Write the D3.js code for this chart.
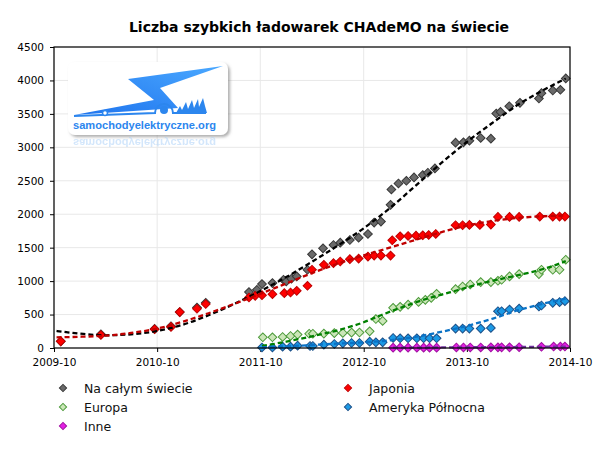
<!DOCTYPE html>
<html>
<head>
<meta charset="utf-8">
<script src="https://cdnjs.cloudflare.com/ajax/libs/d3/7.8.5/d3.min.js"></script>
<style>
  body { margin: 0; background: #fff; }
  .chart text { font-family: "DejaVu Sans", Verdana, sans-serif; fill: #000; }
</style>
</head>
<body>
<div class="chart"></div>
<script>
// data: [date, chargers]
var worldData = [
  ["2009-10-25",100],["2010-03-16",205],["2010-09-22",285],["2010-11-19",325],["2010-12-20",537],
  ["2011-02-19",605],["2011-03-22",675],["2011-08-22",836],["2011-09-19",870],["2011-10-07",955],
  ["2011-11-13",970],["2011-12-22",1020],["2012-01-01",995],["2012-01-19",1035],["2012-02-07",1070],
  ["2012-03-16",1170],["2012-04-01",1400],["2012-05-10",1490],["2012-06-16",1540],["2012-07-10",1575],
  ["2012-08-13",1615],["2012-09-13",1650],["2012-10-16",1705],["2012-11-07",1875],["2012-12-01",1890],
  ["2013-01-04",2140],["2013-01-07",2370],["2013-02-01",2460],["2013-03-01",2500],["2013-03-28",2550],
  ["2013-04-28",2585],["2013-05-16",2620],["2013-06-10",2685],["2013-08-22",3070],["2013-09-19",3075],
  ["2013-10-10",3100],["2013-11-19",3140],["2013-12-25",3130],["2014-01-13",3505],["2014-01-28",3530],
  ["2014-02-28",3615],["2014-04-07",3665],["2014-06-13",3730],["2014-06-22",3810],["2014-08-01",3850],
  ["2014-08-28",3860],["2014-09-16",4030]
];
var japanData = [
  ["2009-10-25",100],["2010-03-16",195],["2010-09-22",280],["2010-11-19",315],["2010-12-20",537],
  ["2011-02-19",587],["2011-03-22",657],["2011-08-22",755],["2011-09-13",780],["2011-10-07",790],
  ["2011-11-13",805],["2011-12-25",820],["2012-01-16",830],["2012-02-07",855],["2012-03-16",930],
  ["2012-04-01",1170],["2012-05-13",1243],["2012-06-16",1268],["2012-07-10",1293],["2012-08-13",1328],
  ["2012-09-13",1337],["2012-10-16",1367],["2012-11-07",1382],["2012-12-01",1382],["2013-01-04",1382],
  ["2013-01-10",1610],["2013-02-07",1670],["2013-03-07",1675],["2013-04-04",1680],["2013-04-28",1685],
  ["2013-05-19",1690],["2013-06-13",1705],["2013-08-22",1835],["2013-09-16",1835],["2013-10-10",1840],
  ["2013-11-16",1840],["2013-12-25",1845],["2014-01-19",1960],["2014-03-01",1960],["2014-04-04",1960],
  ["2014-06-16",1965],["2014-08-01",1965],["2014-08-25",1965],["2014-09-13",1965]
];
var europeData = [
  ["2011-10-10",160],["2011-11-13",160],["2011-12-19",165],["2012-01-16",180],["2012-02-10",200],
  ["2012-03-22",213],["2012-04-04",213],["2012-05-13",215],["2012-06-19",223],["2012-07-19",225],
  ["2012-08-19",230],["2012-09-16",232],["2012-10-22",249],["2012-11-13",433],["2012-12-07",405],
  ["2013-01-13",600],["2013-02-07",615],["2013-03-07",648],["2013-04-13",689],["2013-05-07",720],
  ["2013-05-28",750],["2013-06-16",810],["2013-08-22",880],["2013-09-16",920],["2013-10-13",950],
  ["2013-11-19",985],["2013-12-25",985],["2014-01-19",1005],["2014-02-01",1020],["2014-03-01",1070],
  ["2014-04-04",1105],["2014-06-13",1105],["2014-06-22",1170],["2014-08-01",1170],["2014-08-25",1170],
  ["2014-09-16",1320]
];
var northAmericaData = [
  ["2011-10-07",8],["2011-11-13",8],["2011-12-19",20],["2012-01-16",20],["2012-02-10",35],
  ["2012-03-25",30],["2012-04-04",30],["2012-05-13",50],["2012-06-19",60],["2012-07-19",70],
  ["2012-08-19",75],["2012-09-16",75],["2012-10-22",95],["2012-11-13",85],["2012-12-07",85],
  ["2013-01-13",150],["2013-02-07",145],["2013-03-07",145],["2013-04-07",145],["2013-05-01",145],
  ["2013-05-22",145],["2013-06-16",145],["2013-08-22",290],["2013-09-16",290],["2013-10-10",290],
  ["2013-11-19",290],["2013-12-25",300],["2014-01-19",550],["2014-02-01",550],["2014-03-01",575],
  ["2014-04-04",590],["2014-06-13",620],["2014-06-22",635],["2014-08-01",675],["2014-08-25",685],
  ["2014-09-13",700]
];
var otherData = [
  ["2013-01-13",5],["2013-02-07",5],["2013-03-07",5],["2013-04-07",5],["2013-05-01",5],
  ["2013-05-22",5],["2013-06-16",5],["2013-08-25",8],["2013-09-19",8],["2013-10-13",8],
  ["2013-11-19",8],["2013-12-25",10],["2014-01-19",10],["2014-02-01",10],["2014-03-01",10],
  ["2014-04-04",12],["2014-06-22",18],["2014-08-04",22],["2014-08-28",22],["2014-09-13",22]
];

// dashed trend lines
var worldTrend = [
  ["2009-10-10",255],["2010-01-01",215],["2010-04-01",190],["2010-07-01",205],["2010-10-01",255],
  ["2011-01-01",350],["2011-04-01",490],["2011-07-01",660],["2011-10-01",850],["2012-01-01",1060],
  ["2012-04-01",1290],["2012-07-01",1530],["2012-10-01",1790],["2013-01-01",2090],["2013-04-01",2420],
  ["2013-07-01",2760],["2013-10-01",3080],["2014-01-01",3370],["2014-04-01",3640],["2014-07-01",3860],
  ["2014-09-16",4030]
];
var japanTrend = [
  ["2009-10-10",160],["2010-01-01",168],["2010-04-01",185],["2010-07-01",225],["2010-10-01",290],
  ["2011-01-01",395],["2011-04-01",520],["2011-07-01",660],["2011-10-01",810],["2012-01-01",965],
  ["2012-04-01",1120],["2012-07-01",1260],["2012-10-01",1385],["2013-01-01",1500],["2013-04-01",1615],
  ["2013-07-01",1730],["2013-10-01",1830],["2014-01-01",1900],["2014-04-01",1945],["2014-07-01",1970],
  ["2014-09-16",1980]
];
var europeTrend = [
  ["2011-10-07",30],["2012-01-01",95],["2012-04-01",175],["2012-07-01",265],["2012-10-01",385],
  ["2012-12-01",490],["2013-02-01",590],["2013-04-01",680],["2013-06-01",760],["2013-08-01",830],
  ["2013-10-01",905],["2013-12-01",975],["2014-02-01",1035],["2014-04-01",1090],["2014-06-01",1150],
  ["2014-07-01",1185],["2014-08-01",1225],["2014-09-16",1300]
];
var northAmericaTrend = [
  ["2011-10-07",10],["2012-01-01",25],["2012-04-01",45],["2012-07-01",65],["2012-10-01",85],
  ["2013-01-01",115],["2013-04-01",165],["2013-07-01",240],["2013-10-01",330],["2014-01-01",440],
  ["2014-04-01",565],["2014-07-01",665],["2014-09-16",740]
];
var otherTrend = [
  ["2013-01-13",5],["2013-07-01",8],["2013-12-01",12],["2014-05-01",16],["2014-09-16",22]
];

var seriesNames = ["Na całym świecie", "Japonia", "Europa", "Ameryka Północna", "Inne"];
var xTickLabels = ["2009-10", "2010-10", "2011-10", "2012-10", "2013-10", "2014-10"];
var yTickValues = [0, 500, 1000, 1500, 2000, 2500, 3000, 3500, 4000, 4500];

var svgWidth = 600;
var svgHeight = 450;
var margin = { top: 47, right: 30, bottom: 102, left: 54 };
var width = svgWidth - margin.left - margin.right;
var height = svgHeight - margin.top - margin.bottom;

var parseDate = d3.timeParse("%Y-%m-%d");
var parseMonth = d3.timeParse("%Y-%m");

var series = [
  { data: worldData, trend: worldTrend, fill: "#6a6a6a", stroke: "#383838", line: "#000000" },
  { data: japanData, trend: japanTrend, fill: "#ff0000", stroke: "#c00000", line: "#c00000" },
  { data: europeData, trend: europeTrend, fill: "#cbe6b8", stroke: "#4c9a3a", line: "#008000" },
  { data: northAmericaData, trend: northAmericaTrend, fill: "#1b9ae6", stroke: "#1c4f88", line: "#0a72c6" },
  { data: otherData, trend: otherTrend, fill: "#e41ee4", stroke: "#a012a0", line: "#7030a0" }
];
series.forEach(function (s, i) { s.name = seriesNames[i]; });

var svg = d3.select(".chart")
  .append("svg")
  .attr("width", svgWidth)
  .attr("height", svgHeight);

var defs = svg.append("defs");
defs.append("filter")
  .attr("id", "shadow")
  .attr("x", "-10%").attr("y", "-10%").attr("width", "130%").attr("height", "140%")
  .append("feDropShadow")
  .attr("dx", 2).attr("dy", 2).attr("stdDeviation", 1.6)
  .attr("flood-color", "#777").attr("flood-opacity", 0.6);
var grad = defs.append("linearGradient")
  .attr("id", "bolt").attr("x1", "0").attr("y1", "1").attr("x2", "1").attr("y2", "0");
grad.append("stop").attr("offset", "0%").attr("stop-color", "#1f74ee");
grad.append("stop").attr("offset", "100%").attr("stop-color", "#4aa8ff");

// title
svg.append("text")
  .attr("x", 319)
  .attr("y", 32)
  .attr("text-anchor", "middle")
  .attr("font-size", "14px")
  .attr("font-weight", "bold")
  .text("Liczba szybkich ładowarek CHAdeMO na świecie");

var chartGroup = svg.append("g")
  .attr("transform", `translate(${margin.left}, ${margin.top})`);

var xScale = d3.scaleTime()
  .domain([parseMonth(xTickLabels[0]), parseMonth(xTickLabels[xTickLabels.length - 1])])
  .range([0, width]);

var yScale = d3.scaleLinear()
  .domain([0, 4500])
  .range([height, 0]);

// grid
chartGroup.append("g")
  .selectAll("line.h")
  .data(yTickValues)
  .enter().append("line")
  .attr("x1", 0).attr("x2", width)
  .attr("y1", d => yScale(d)).attr("y2", d => yScale(d))
  .attr("stroke", "#e8e8e8");
chartGroup.append("g")
  .selectAll("line.v")
  .data(xTickLabels)
  .enter().append("line")
  .attr("x1", d => xScale(parseMonth(d))).attr("x2", d => xScale(parseMonth(d)))
  .attr("y1", 0).attr("y2", height)
  .attr("stroke", "#e8e8e8");

// logo
var logo = chartGroup.append("g")
  .attr("transform", `translate(${-margin.left}, ${-margin.top})`);
logo.append("rect")
  .attr("x", 68).attr("y", 62).attr("width", 160).attr("height", 73).attr("rx", 7)
  .attr("fill", "#fff")
  .attr("filter", "url(#shadow)");
logo.append("path")
  .attr("d", "M223,66 L128,79 L154,100 L74,115 L178,108 L160,88 Z")
  .attr("fill", "url(#bolt)");
logo.append("path")
  .attr("d", "M74,116 L155,113 A9,9 0 0 1 173,113 L206,113")
  .attr("fill", "none").attr("stroke", "#2c86ee").attr("stroke-width", 2);
logo.append("circle")
  .attr("cx", 164).attr("cy", 110).attr("r", 4)
  .attr("fill", "#2c86ee");
logo.append("circle")
  .attr("cx", 105).attr("cy", 113).attr("r", 2.5)
  .attr("fill", "#fff").attr("stroke", "#2c86ee").attr("stroke-width", 1.5);
logo.append("path")
  .attr("d", "M176,113 L180,106 L182,110 L186,102 L188,109 L192,100 L194,108 L198,99 L199,107 L203,98 L205,106 L207,113 Z")
  .attr("fill", "#2c86ee");
logo.append("text")
  .attr("x", 73).attr("y", 129)
  .attr("textLength", 143)
  .attr("lengthAdjust", "spacingAndGlyphs")
  .style("font-family", "'Liberation Sans', Arial, sans-serif")
  .style("font-weight", "bold")
  .style("font-size", "11px")
  .style("fill", "#2c86ee")
  .text("samochodyelektryczne.org");
logo.append("text")
  .attr("x", 73).attr("y", 139)
  .attr("transform", "translate(0,278) scale(1,-1)")
  .attr("textLength", 143)
  .attr("lengthAdjust", "spacingAndGlyphs")
  .style("font-family", "'Liberation Sans', Arial, sans-serif")
  .style("font-weight", "bold")
  .style("font-size", "11px")
  .style("fill", "#a8cff8")
  .style("opacity", 0.5)
  .text("samochodyelektryczne.org");

// axes
var bottomAxis = d3.axisBottom(xScale)
  .tickValues(xTickLabels.map(parseMonth))
  .tickFormat(d3.timeFormat("%Y-%m"))
  .tickSize(4)
  .tickSizeOuter(0)
  .tickPadding(7);
var leftAxis = d3.axisLeft(yScale)
  .tickValues(yTickValues)
  .tickFormat(d3.format("d"))
  .tickSize(4)
  .tickSizeOuter(0)
  .tickPadding(6);

var xAxis = chartGroup.append("g")
  .attr("transform", `translate(0, ${height})`)
  .call(bottomAxis);
var yAxis = chartGroup.append("g")
  .call(leftAxis);
[xAxis, yAxis].forEach(function (ax) {
  ax.select(".domain").remove();
  ax.selectAll("line").attr("stroke", "#000");
  ax.selectAll("text").attr("font-size", "10.5px").attr("fill", "#000")
    .style("font-family", "'DejaVu Sans', Verdana, sans-serif");
});

// markers
var diamond = d3.symbol().type(d3.symbolSquare).size(38);
series.forEach(function (s) {
  chartGroup.append("g")
    .selectAll("path")
    .data(s.data)
    .enter().append("path")
    .attr("d", diamond)
    .attr("transform", d => `translate(${xScale(parseDate(d[0]))}, ${yScale(d[1])}) rotate(45)`)
    .attr("fill", s.fill)
    .attr("stroke", s.stroke)
    .attr("stroke-width", 1);
});

// trend lines
var trendLine = d3.line()
  .x(d => xScale(parseDate(d[0])))
  .y(d => yScale(d[1]))
  .curve(d3.curveMonotoneX);
series.forEach(function (s) {
  chartGroup.append("path")
    .datum(s.trend)
    .attr("d", trendLine)
    .attr("fill", "none")
    .attr("stroke", s.line)
    .attr("stroke-width", 2.3)
    .attr("stroke-dasharray", "5,3");
});

// frame
chartGroup.append("rect")
  .attr("width", width)
  .attr("height", height)
  .attr("fill", "none")
  .attr("stroke", "#000")
  .attr("stroke-width", 1.2);

// legend
var legendPos = [[63, 388], [348, 388], [63, 407], [348, 407], [63, 426]];
var legend = svg.append("g");
series.forEach(function (s, i) {
  var p = legendPos[i];
  legend.append("path")
    .attr("d", d3.symbol().type(d3.symbolSquare).size(26))
    .attr("transform", `translate(${p[0]}, ${p[1]}) rotate(45)`)
    .attr("fill", s.fill)
    .attr("stroke", s.stroke);
  legend.append("text")
    .attr("x", p[0] + 21)
    .attr("y", p[1] + 4.5)
    .attr("font-size", "12.5px")
    .style("fill", "#111")
    .text(s.name);
});
</script>
</body>
</html>
